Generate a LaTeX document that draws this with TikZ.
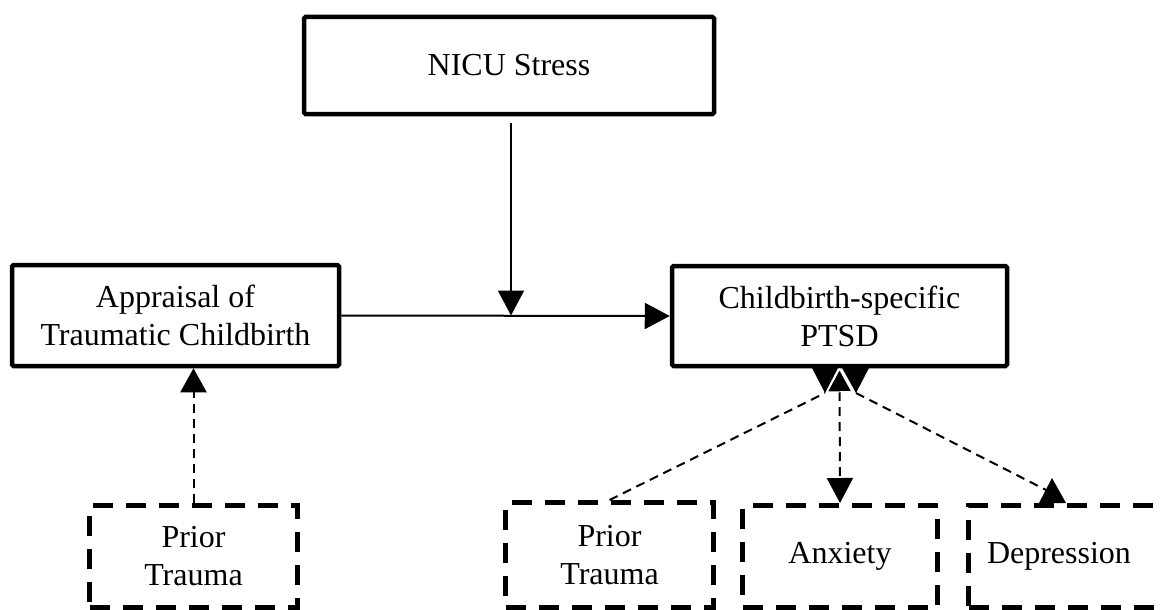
\documentclass[tikz,border=0pt]{standalone}
\usepackage{fontspec}
\setmainfont{Liberation Serif}
\usetikzlibrary{arrows.meta}
\begin{document}
\begin{tikzpicture}[x=1pt,y=-1pt,
  txt/.style={align=center,font=\fontsize{32}{38}\selectfont,inner sep=0pt},
  solidbox/.style={txt,draw,line width=4.5pt,rounded corners=1.5pt},
  dashbox/.style={txt,draw,line width=5pt,dash pattern=on 20pt off 13pt},
  conn/.style={line width=2pt},
  dconn/.style={line width=2pt,dash pattern=on 9pt off 6pt}
]
\useasboundingbox (0,0) rectangle (1165,610);
\clip (0,0) rectangle (1165,610);

% solid boxes
\node[solidbox,minimum width=410pt,minimum height=97pt] (nicu) at (509,65.5) {NICU Stress};
\node[solidbox,minimum width=327pt,minimum height=101pt] (appr) at (175.5,315.5) {Appraisal of\\Traumatic Childbirth};
\node[solidbox,minimum width=335pt,minimum height=100pt] (ptsd) at (839.5,316) {Childbirth-specific\\PTSD};

% dashed boxes
\node[dashbox,minimum width=208pt,minimum height=102pt] (pt1) at (193.5,556.5) {Prior\\Trauma};
\node[dashbox,minimum width=208pt,minimum height=105pt] (pt2) at (609.5,555) {Prior\\Trauma};
\node[dashbox,minimum width=195pt,minimum height=102pt] (anx) at (840,556.5) {Anxiety};
\node[dashbox,minimum width=206pt,minimum height=102pt] (dep) at (1071.5,556.5) {};
\node[txt] (deptext) at (1059,556.5) {Depression};

% solid connectors
\coordinate (nicustart) at ([xshift=2pt,yshift=-7pt]nicu.south);
\coordinate (mid) at (nicustart |- appr.east);
\draw[conn,-{Triangle[length=25pt,width=26pt]}] (appr.east) -- (ptsd.west);
\draw[conn,-{Triangle[length=25pt,width=26pt]}] (nicustart) -- (mid);

% prior trauma 1 -> appraisal
\draw[dconn,-{Triangle[length=24pt,width=26pt]}] (pt1.north) -- (pt1.north |- appr.south);

% reversed heads under PTSD
\coordinate (lt) at (825,393);
\coordinate (rt) at (856,393);
\fill (811,366) -- (839,366) -- (lt) -- cycle;
\fill (841,366) -- (870,366) -- (rt) -- cycle;
\draw[dconn] (pt2.north) -- (lt);
\coordinate (dept) at (1046,490);
\draw[dconn] (rt) -- (dept);
\fill (1052,478) -- (1066,503) -- (1039,503) -- cycle;

% PTSD <-> anxiety
\draw[dconn,{Triangle[length=24pt,width=26pt,color=white,fill=black,line width=1pt]}-{Triangle[length=25pt,width=26pt]}] (ptsd.south) -- (anx.north);
\end{tikzpicture}
\end{document}
